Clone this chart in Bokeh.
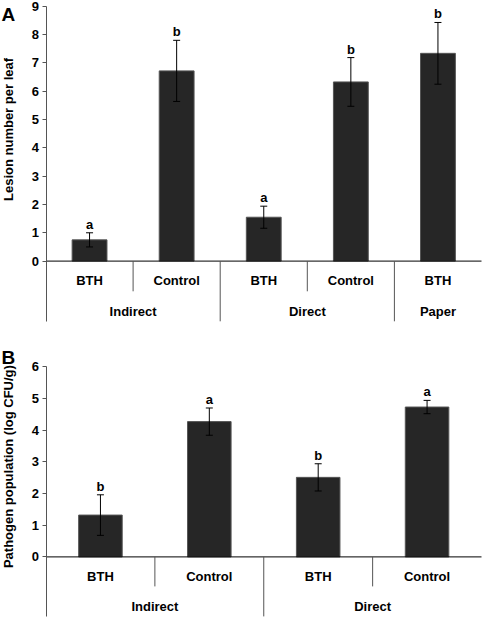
import math
from bokeh.plotting import figure
from bokeh.models import (Range1d, FixedTicker, Whisker, TeeHead,
                          ColumnDataSource, Label)
from bokeh.layouts import column
from bokeh.core.properties import value
from bokeh.embed import file_html
from bokeh.resources import INLINE

# ---------------- data ----------------
groups_a = ["Indirect", "Indirect", "Direct", "Direct", "Paper"]
treat_a = ["BTH", "Control", "BTH", "Control", "BTH"]
lesion_mean = [0.75, 6.72, 1.55, 6.33, 7.34]
lesion_err = [0.25, 1.08, 0.39, 0.86, 1.09]
lesion_sig = ["a", "b", "a", "b", "b"]
ticks_a = [0, 1, 2, 3, 4, 5, 6, 7, 8, 9]

groups_b = ["Indirect", "Indirect", "Direct", "Direct"]
treat_b = ["BTH", "Control", "BTH", "Control"]
pop_mean = [1.32, 4.27, 2.51, 4.73]
pop_err = [0.64, 0.43, 0.43, 0.21]
pop_sig = ["b", "a", "b", "a"]
ticks_b = [0, 1, 2, 3, 4, 5, 6]

FONT = "Liberation Sans"
BAR = "#262626"
SEP = "#555555"
FS = "13px"
W = 482          # figure width
AXIS_PX = 45.5   # x position of the value axis inside the figure
END_PX = 481     # right end of the category table


def panel(groups, treats, means, errs, sigs, ticks, ylabel, letter,
          H, top_px, zero_px, table_px, subsep_px, group_off, letter_top,
          ylabel_y):
    n = len(treats)
    ymax = ticks[-1]
    xunit = (END_PX - AXIS_PX) / n
    yunit = (zero_px - top_px) / ymax
    p = figure(width=W, height=H,
               x_range=Range1d(-AXIS_PX / xunit, n + (W - END_PX) / xunit),
               y_range=Range1d(-(H - zero_px) / yunit, ymax + top_px / yunit),
               output_backend="svg", toolbar_location=None,
               x_axis_location=None, min_border=0)
    p.outline_line_color = None
    p.grid.visible = False
    p.background_fill_color = "white"
    p.border_fill_color = "white"

    # category positions come from the order of the category lists
    xs = [i + 0.5 for i in range(n)]
    src = ColumnDataSource(dict(
        x=xs, mean=means,
        upper=[m + e for m, e in zip(means, errs)],
        lower=[m - e for m, e in zip(means, errs)],
        sig=sigs, treat=treats))

    p.vbar(x="x", top="mean", width=0.4, source=src,
           fill_color=BAR, line_color="#555555", line_width=1)

    w = Whisker(source=src, base="x", upper="upper", lower="lower",
                dimension="height", line_color="black", line_width=1,
                level="annotation",
                upper_head=TeeHead(size=7, line_color="black", line_width=1),
                lower_head=TeeHead(size=7, line_color="black", line_width=1))
    p.add_layout(w)

    p.text(x="x", y="upper", text="sig", source=src,
           text_align="center", text_baseline="bottom", y_offset=-1,
           text_font=value(FONT), text_font_style="bold",
           text_font_size=FS, text_color="black")

    # category axis line at zero
    p.segment(x0=[0], x1=[n], y0=[0], y1=[0], line_color="black",
              line_width=1)

    # separators of the category table
    table_y = -table_px / yunit
    sub_y = -subsep_px / yunit
    sx, sy1 = [], []
    for i in range(n - 1):
        sx.append(i + 1)
        sy1.append(sub_y if groups[i] == groups[i + 1] else table_y)
    p.segment(x0=sx, x1=sx, y0=[0] * len(sx), y1=sy1, line_color=SEP,
              line_width=1)

    # sub category labels
    p.text(x="x", y=0, text="treat", source=src, text_align="center",
           text_baseline="middle", y_offset=19.5, text_font=value(FONT),
           text_font_style="bold", text_font_size=FS,
           text_color="black")
    # group labels, centred on their members
    ug, gx = [], []
    for g in groups:
        if g not in ug:
            ug.append(g)
            members = [xs[i] for i in range(n) if groups[i] == g]
            gx.append(sum(members) / len(members))
    p.text(x=gx, y=[0] * len(ug), text=ug, text_align="center",
           text_baseline="middle", y_offset=group_off, text_font=value(FONT),
           text_font_style="bold", text_font_size=FS,
           text_color="black")

    ax = p.yaxis[0]
    ax.fixed_location = 0
    ax.bounds = (table_y, ymax)
    ax.ticker = FixedTicker(ticks=ticks)
    ax.minor_tick_line_color = None
    ax.major_tick_in = 0
    ax.major_tick_out = 4
    ax.major_tick_line_color = SEP
    ax.axis_line_color = SEP
    ax.major_label_standoff = 3
    ax.major_label_text_font = FONT
    ax.major_label_text_font_style = "bold"
    ax.major_label_text_font_size = FS
    ax.major_label_text_color = "black"

    p.add_layout(Label(x=8, y=ylabel_y, x_units="screen", y_units="data",
                       text=ylabel, angle=math.pi / 2, text_align="center",
                       text_baseline="middle", text_font=FONT,
                       text_font_style="bold", text_font_size=FS,
                       text_color="black"))
    p.add_layout(Label(x=1, y=H - letter_top, x_units="screen",
                       y_units="screen", text=letter, text_align="left",
                       text_baseline="top", text_font=FONT,
                       text_font_style="bold", text_font_size="19px",
                       text_color="black"))
    return p


pa = panel(groups_a, treat_a, lesion_mean, lesion_err, lesion_sig, ticks_a,
           "Lesion number per leaf", "A", 332, 5.85, 260.6, 60.2, 30.2, 50.5,
           3, 4.65)
pb = panel(groups_b, treat_b, pop_mean, pop_err, pop_sig, ticks_b,
           "Pathogen population (log CFU/g)", "B", 286, 34.3, 224.4, 59.5,
           29.5, 49.7, 14, 2.85)

layout = column(pa, pb, spacing=0)
open("out.html", "w").write(file_html(layout, INLINE))
